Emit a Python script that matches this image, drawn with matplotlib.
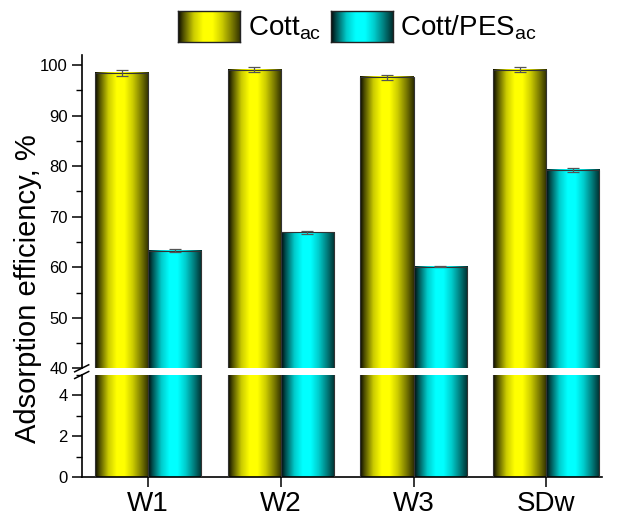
import numpy as np
import matplotlib
matplotlib.use("Agg")
import matplotlib.pyplot as plt
from matplotlib.lines import Line2D
from matplotlib.ticker import MultipleLocator

plt.rcParams['font.family'] = ['Liberation Sans', 'DejaVu Sans']
plt.rcParams['mathtext.fontset'] = 'custom'
plt.rcParams['mathtext.rm'] = 'Liberation Sans'
plt.rcParams['mathtext.it'] = 'Liberation Sans'

# ---- data ----
samples = ['W1', 'W2', 'W3', 'SDw']
cott_ac = [98.4, 99.1, 97.6, 99.1]
cott_ac_err = [0.55, 0.55, 0.5, 0.55]
cott_pes_ac = [63.3, 66.9, 60.1, 79.3]
cott_pes_ac_err = [0.3, 0.3, 0.15, 0.4]
series_labels = [r'Cott$_{\mathregular{ac}}$', r'Cott/PES$_{\mathregular{ac}}$']
series_colors = ['#FFFF00', '#00FFFF']

W, H = 644, 517
fig = plt.figure(figsize=(W / 100, H / 100), dpi=100)


def fx(px):
    return px / W


def fy(py):
    return (H - py) / H


left, right = 81.7, 602.0
ax_top = fig.add_axes([fx(left), fy(368.3), fx(right - left), fy(55) - fy(368.3)])
ax_bot = fig.add_axes([fx(left), fy(477.3), fx(right - left), fy(375) - fy(477.3)])
ax_top.set_ylim(40, 102)
ax_bot.set_ylim(0, 5)

# brightness profile across the bar width (shaded cylinder look)
prof_t = [0.0, 0.08, 0.25, 0.4, 0.55, 0.7, 0.85, 1.0]
prof_b = [0.03, 0.3, 0.8, 1.0, 1.0, 0.8, 0.5, 0.18]
tt = np.linspace(0, 1, 200)
bright = np.interp(tt, prof_t, prof_b)


def gradient_image(color):
    rgb = np.array(matplotlib.colors.to_rgb(color))
    return (bright[:, None] * rgb[None, :])[None, :, :]


def shaded_bars(ax, xpos, values, color, width):
    ylo, yhi = ax.get_ylim()
    bars = ax.bar(xpos, values, width=width, align='edge', facecolor='none',
                  edgecolor='#333333', linewidth=0.8, zorder=3)
    img = gradient_image(color)
    for patch in bars.patches:
        x0 = patch.get_x()
        w = patch.get_width()
        h = min(patch.get_height(), yhi)
        ax.imshow(img, extent=[x0, x0 + w, ylo, h], aspect='auto',
                  interpolation='bilinear', zorder=2)
    return bars


x = np.arange(len(samples))
bw = 0.4
for ax, lims in ((ax_top, (40, 102)), (ax_bot, (0, 5))):
    shaded_bars(ax, x - bw, cott_ac, series_colors[0], bw)
    shaded_bars(ax, x, cott_pes_ac, series_colors[1], bw)
    ax.set_xlim(-0.5, 3.42)
    ax.set_ylim(*lims)
    for s in ('top', 'right'):
        ax.spines[s].set_visible(False)
    ax.spines['left'].set_linewidth(1.2)
    ax.spines['bottom'].set_linewidth(1.2)
    ax.tick_params(axis='y', which='major', direction='out', length=7, width=1.1,
                   labelsize=12, pad=3)
    ax.tick_params(axis='y', which='minor', direction='out', length=4, width=1.0)

ax_top.errorbar(x - bw / 2, cott_ac, yerr=cott_ac_err, fmt='none', ecolor='#555555',
                elinewidth=0.9, capsize=4, capthick=0.9, zorder=4)
ax_top.errorbar(x + bw / 2, cott_pes_ac, yerr=cott_pes_ac_err, fmt='none', ecolor='#555555',
                elinewidth=0.9, capsize=4, capthick=0.9, zorder=4)

ax_top.yaxis.set_major_locator(MultipleLocator(10))
ax_top.yaxis.set_minor_locator(MultipleLocator(5))
ax_top.spines['bottom'].set_visible(False)
ax_top.set_xticks([])

ax_bot.yaxis.set_major_locator(MultipleLocator(2))
ax_bot.yaxis.set_minor_locator(MultipleLocator(1))
ax_bot.set_xticks(x)
ax_bot.set_xticklabels(samples)
ax_bot.tick_params(axis='x', direction='out', length=7, width=1.1, labelsize=20, pad=3)

# break marks on the left spine
for yb in (368.3, 375.0):
    fig.add_artist(Line2D([fx(left - 7), fx(left + 7)], [fy(yb + 3.5), fy(yb - 3.5)],
                          color='black', linewidth=1.1))

fig.text(fx(28), fy(288.5), 'Adsorption efficiency, %', rotation=90,
         ha='center', va='center', fontsize=21)

# legend with shaded swatches
legend_items = [(178, 248), (331, 400)]
for (px0, tx), lab, col in zip(legend_items, series_labels, series_colors):
    lax = fig.add_axes([fx(px0), fy(42), fx(62), fy(11) - fy(42)])
    lax.imshow(gradient_image(col), aspect='auto', interpolation='bilinear')
    lax.set_xticks([])
    lax.set_yticks([])
    for sp in lax.spines.values():
        sp.set_linewidth(1.0)
        sp.set_color('#222222')
    fig.text(fx(tx), fy(35), lab, ha='left', va='baseline', fontsize=20)

fig.savefig('out.png', dpi=100)
